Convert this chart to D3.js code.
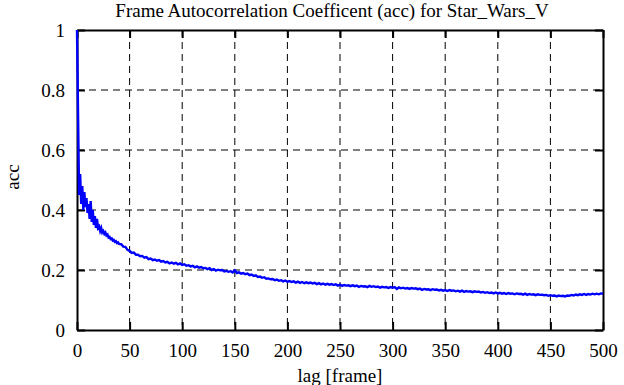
<!DOCTYPE html>
<html>
<head>
<meta charset="utf-8">
<script src="https://cdn.jsdelivr.net/npm/d3@7"></script>
<style>
  body { margin: 0; background: #fff; }
  svg text { font-family: "Liberation Serif", "Times New Roman", Times, "DejaVu Serif", serif; fill: #000; }
</style>
</head>
<body>
<div id="chart"></div>
<script>
const TITLE = "Frame Autocorrelation Coefficent (acc) for Star_Wars_V";
const X_LABEL = "lag [frame]";
const Y_LABEL = "acc";
const X_TICKS = [0, 50, 100, 150, 200, 250, 300, 350, 400, 450, 500];
const Y_TICKS = [0, 0.2, 0.4, 0.6, 0.8, 1];

// lags 0..40 step 1, then 42..500 step 2
const LAGS = d3.range(0, 41).concat(d3.range(42, 501, 2));

// acc
const ACC_START = [
    1.0, 0.72, 0.45, 0.52, 0.42, 0.48, 0.40, 0.46, 0.41, 0.44,
    0.39, 0.42, 0.37, 0.43, 0.36, 0.40, 0.35, 0.38, 0.34, 0.37,
    0.34, 0.345, 0.33, 0.34, 0.325, 0.33, 0.32, 0.325, 0.315, 0.318,
    0.308, 0.31, 0.303, 0.305, 0.298, 0.300, 0.294, 0.296, 0.29, 0.292,
    0.287
];
const ACC_REST = [
    0.286, 0.278, 0.277, 0.267, 0.264, 0.257, 0.258, 0.251, 0.251, 0.246,
    0.247, 0.241, 0.243, 0.236, 0.238, 0.233, 0.235, 0.231, 0.233, 0.228,
    0.230, 0.225, 0.227, 0.222, 0.225, 0.221, 0.224, 0.219, 0.222, 0.217,
    0.219, 0.214, 0.216, 0.212, 0.214, 0.209, 0.212, 0.208, 0.210, 0.206,
    0.207, 0.203, 0.206, 0.200, 0.203, 0.198, 0.201, 0.199, 0.200, 0.195,
    0.197, 0.194, 0.196, 0.192, 0.199, 0.190, 0.192, 0.188, 0.190, 0.186,
    0.188, 0.183, 0.185, 0.180, 0.182, 0.177, 0.178, 0.174, 0.176, 0.171,
    0.172, 0.169, 0.170, 0.166, 0.168, 0.164, 0.166, 0.162, 0.165, 0.161,
    0.163, 0.160, 0.162, 0.158, 0.161, 0.157, 0.160, 0.156, 0.159, 0.156,
    0.158, 0.155, 0.157, 0.153, 0.156, 0.152, 0.155, 0.151, 0.154, 0.151,
    0.153, 0.150, 0.152, 0.148, 0.151, 0.147, 0.150, 0.148, 0.149, 0.146,
    0.149, 0.146, 0.148, 0.144, 0.147, 0.145, 0.146, 0.143, 0.147, 0.144,
    0.146, 0.143, 0.145, 0.141, 0.144, 0.142, 0.143, 0.140, 0.143, 0.141,
    0.143, 0.137, 0.142, 0.139, 0.141, 0.138, 0.140, 0.137, 0.140, 0.138,
    0.139, 0.136, 0.138, 0.134, 0.137, 0.135, 0.136, 0.133, 0.136, 0.134,
    0.135, 0.132, 0.134, 0.131, 0.133, 0.130, 0.133, 0.131, 0.132, 0.129,
    0.131, 0.128, 0.131, 0.127, 0.130, 0.128, 0.129, 0.126, 0.129, 0.127,
    0.128, 0.125, 0.127, 0.124, 0.126, 0.123, 0.125, 0.122, 0.125, 0.122,
    0.124, 0.121, 0.123, 0.120, 0.123, 0.121, 0.122, 0.119, 0.122, 0.120,
    0.121, 0.118, 0.121, 0.117, 0.120, 0.118, 0.119, 0.116, 0.119, 0.117,
    0.118, 0.116, 0.117, 0.114, 0.116, 0.114, 0.115, 0.112, 0.115, 0.113,
    0.114, 0.112, 0.115, 0.114, 0.117, 0.115, 0.118, 0.116, 0.119, 0.117,
    0.120, 0.117, 0.120, 0.118, 0.121, 0.119, 0.121, 0.119, 0.122, 0.121
];
const ACC = ACC_START.concat(ACC_REST);

const W = 624, H = 385;
const margin = {top: 30, right: 21, bottom: 55, left: 77};
const width = W - margin.left - margin.right;
const height = H - margin.top - margin.bottom;
const FONT = '"Liberation Serif", "Times New Roman", Times, "DejaVu Serif", serif';

const svg = d3.select("#chart")
              .append("svg")
              .attr("width", W)
              .attr("height", H);

const g = svg.append("g")
             .attr("transform", "translate(" + margin.left + "," + margin.top + ")");

const x = d3.scaleLinear().domain([0, 500]).range([0, width]);
const y = d3.scaleLinear().domain([0, 1]).range([height, 0]);

// dashed grid
g.append("g")
 .selectAll("line")
 .data(X_TICKS.slice(1, -1))
 .enter()
 .append("line")
 .attr("x1", d => x(d)).attr("x2", d => x(d))
 .attr("y1", 0).attr("y2", height)
 .attr("stroke", "#000")
 .attr("stroke-width", 1)
 .attr("stroke-dasharray", "7,5");

g.append("g")
 .selectAll("line")
 .data(Y_TICKS.slice(1, -1))
 .enter()
 .append("line")
 .attr("x1", 0).attr("x2", width)
 .attr("y1", d => y(d)).attr("y2", d => y(d))
 .attr("stroke", "#000")
 .attr("stroke-width", 1)
 .attr("stroke-dasharray", "7,5");

// axes, ticks pointing inward on all four sides
const tickLen = 8;
const xAxisB = g.append("g")
                .attr("transform", "translate(0," + height + ")")
                .call(d3.axisBottom(x).tickValues(X_TICKS).tickSizeInner(-tickLen).tickSizeOuter(0).tickPadding(14));
const xAxisT = g.append("g")
                .call(d3.axisTop(x).tickValues(X_TICKS).tickSizeInner(-tickLen).tickSizeOuter(0).tickFormat(""));
const yAxisL = g.append("g")
                .call(d3.axisLeft(y).tickValues(Y_TICKS).tickSizeInner(-tickLen).tickSizeOuter(0).tickPadding(12).tickFormat(d3.format("")));
const yAxisR = g.append("g")
                .attr("transform", "translate(" + width + ",0)")
                .call(d3.axisRight(y).tickValues(Y_TICKS).tickSizeInner(-tickLen).tickSizeOuter(0).tickFormat(""));

[xAxisB, xAxisT, yAxisL, yAxisR].forEach(a => {
    a.attr("font-family", FONT).attr("font-size", 19);
    a.select(".domain").attr("stroke", "#000").attr("stroke-width", 2);
    a.selectAll(".tick line").attr("stroke", "#000").attr("stroke-width", 2);
    a.selectAll("text").attr("font-family", FONT).attr("fill", "#000");
});

// data line
const line = d3.line()
               .x((d, i) => x(LAGS[i]))
               .y(d => y(d));

g.append("path")
 .datum(ACC)
 .attr("d", line)
 .attr("fill", "none")
 .attr("stroke", "#0000ff")
 .attr("stroke-width", 2.4);

// labels
svg.append("text")
   .attr("x", 332)
   .attr("y", 17)
   .attr("text-anchor", "middle")
   .attr("font-family", FONT)
   .attr("font-size", 19)
   .text(TITLE);

svg.append("text")
   .attr("x", margin.left + width / 2)
   .attr("y", 382)
   .attr("text-anchor", "middle")
   .attr("font-family", FONT)
   .attr("font-size", 19)
   .text(X_LABEL);

svg.append("text")
   .attr("transform", "translate(19,177) rotate(-90)")
   .attr("text-anchor", "middle")
   .attr("font-family", FONT)
   .attr("font-size", 19)
   .text(Y_LABEL);
</script>
</body>
</html>
